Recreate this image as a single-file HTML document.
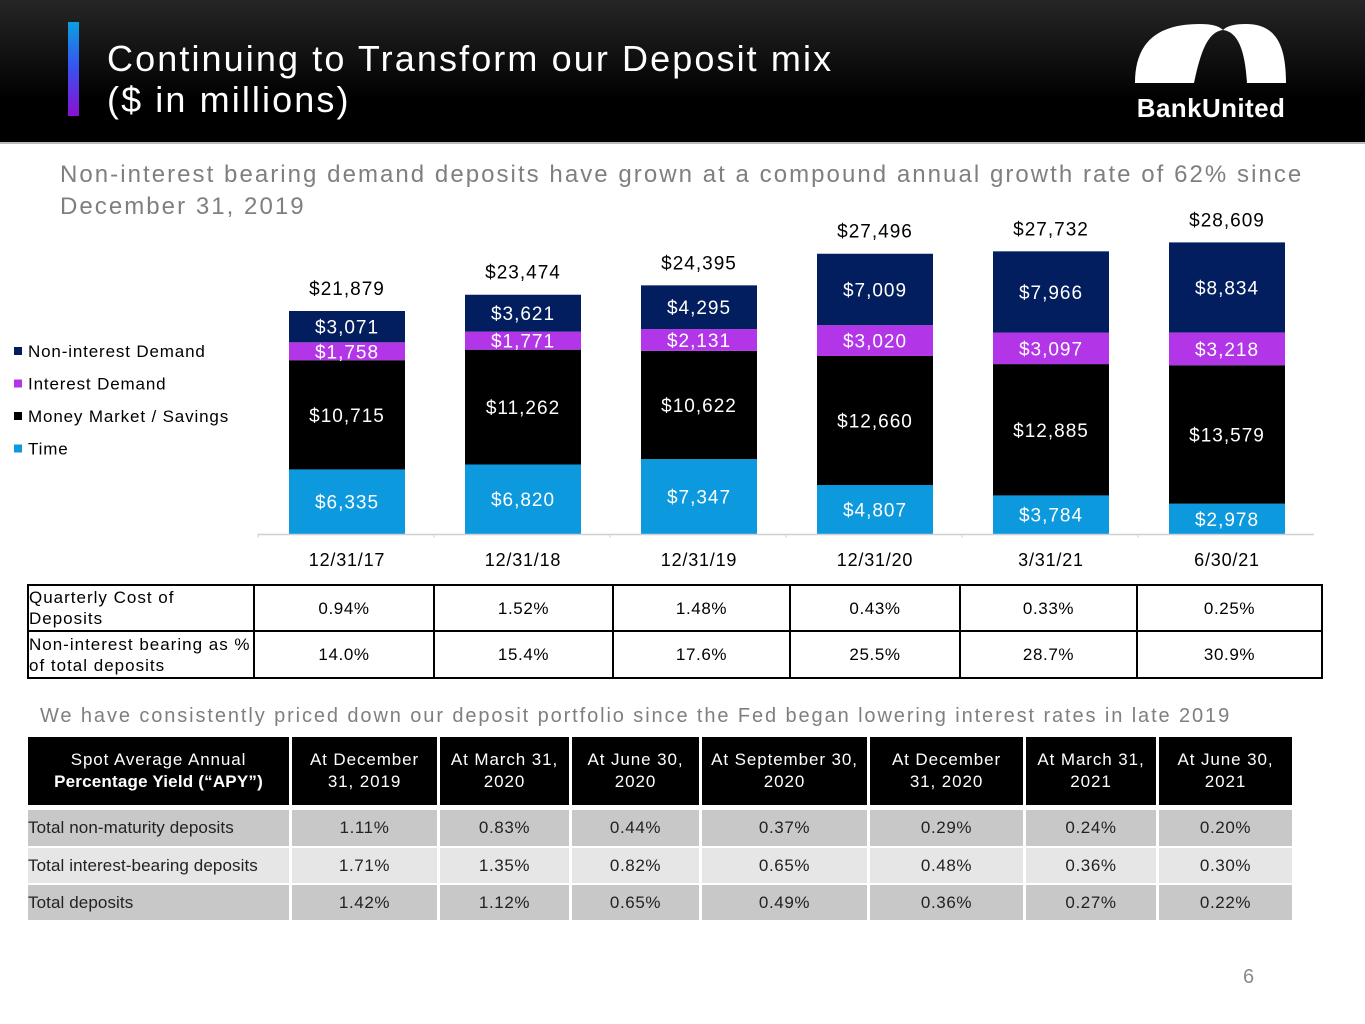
<!DOCTYPE html>
<html><head><meta charset="utf-8">
<style>
*{margin:0;padding:0;box-sizing:border-box}
body{width:1365px;height:1024px;position:relative;background:#fff;font-family:"Liberation Sans",sans-serif;overflow:hidden}
.abs{position:absolute}
.cell{position:absolute;display:flex;align-items:center;justify-content:center;text-align:center;font-size:17px;color:#222;line-height:22px;letter-spacing:0.6px}
</style></head><body>
<div class="abs" style="left:0;top:0;width:1365px;height:142px;background:linear-gradient(#262626,#000 70%)"></div>
<div class="abs" style="left:0;top:142px;width:1365px;height:2px;background:#bbb"></div>
<div class="abs" style="left:68px;top:22px;width:11px;height:94px;background:linear-gradient(#0aa0e0,#3a50f0 50%,#8a10d0)"></div>
<div class="abs" style="left:107px;top:38px;color:#fff;font-size:36px;line-height:41px;letter-spacing:2.1px">Continuing to Transform our Deposit mix<br>($ in millions)</div>
<svg class="abs" style="left:1120px;top:10px" width="180" height="120">
<path d="M15 73 C15 30 40 14 80 14 C92 14 99 16 103 20 C107 16 114 14 126 14 C156 14 166 35 166 73 L127 73 C125 40 118 22 103 20 C88 22 81 40 74 73 Z" fill="#fff"/>
<text x="91" y="107" text-anchor="middle" font-family="Liberation Sans" font-weight="bold" font-size="26" fill="#fff" letter-spacing="0.4">BankUnited</text>
</svg>
<div class="abs" style="left:60px;top:159px;color:#7f7f7f;font-size:24px;line-height:32px;letter-spacing:2.05px">Non-interest bearing demand deposits have grown at a compound annual growth rate of 62% since<br>December 31, 2019</div>

<svg id="chart" class="abs" style="left:0;top:0" width="1365" height="580"></svg>

<div id="t1"></div>
<div class="abs" style="left:40px;top:705px;color:#7f7f7f;font-size:20px;letter-spacing:1.9px">We have consistently priced down our deposit portfolio since the Fed began lowering interest rates in late 2019</div>
<div id="t2"></div>
<div class="abs" style="left:1243px;top:966px;color:#8a8a8a;font-size:20px">6</div>

<script>
const categories=["12/31/17","12/31/18","12/31/19","12/31/20","3/31/21","6/30/21"];
const timeVals=[6335,6820,7347,4807,3784,2978];
const mmVals=[10715,11262,10622,12660,12885,13579];
const intDemVals=[1758,1771,2131,3020,3097,3218];
const nonIntVals=[3071,3621,4295,7009,7966,8834];
const totals=[21879,23474,24395,27496,27732,28609];
const seriesNames=["Non-interest Demand","Interest Demand","Money Market / Savings","Time"];
const NS="http://www.w3.org/2000/svg";
const svg=document.getElementById('chart');
const x0=258,band=176,bw=116,base=534,k=223/21879;
const xc=i=>x0+band*i+band/2+1;
const y=v=>base-v*k;
function mk(t,a){const e=document.createElementNS(NS,t);for(const n in a)e.setAttribute(n,a[n]);svg.appendChild(e);return e;}
function fmt(v){return "$"+v.toLocaleString("en-US");}
const series=[[timeVals,"#0c99dd","time"],[mmVals,"#000","money-market"],[intDemVals,"#b235e8","interest-demand"],[nonIntVals,"#021e5e","non-interest-demand"]];
categories.forEach((c,i)=>{
  let cum=0;
  series.forEach(s=>{
    const v=s[0][i];
    const r=mk('rect',{x:xc(i)-bw/2,y:y(cum+v),width:bw,height:v*k,fill:s[1]});
    
    
    const t=mk('text',{x:xc(i),y:y(cum+v/2)+7,'text-anchor':'middle','font-size':19,fill:'#fff','font-family':'Liberation Sans','letter-spacing':1});
    t.textContent=fmt(v);
    
    
    cum+=v;
  });
  const tt=mk('text',{x:xc(i),y:y(totals[i])-16,'text-anchor':'middle','font-size':19,fill:'#000','font-family':'Liberation Sans','letter-spacing':1});
  tt.textContent=fmt(totals[i]);
  
  
  const xl=mk('text',{x:xc(i),y:566,'text-anchor':'middle','font-size':18,fill:'#000','font-family':'Liberation Sans','letter-spacing':0.8});
  xl.textContent=c;
  
  
  const tk=mk('line',{x1:x0+band*i,x2:x0+band*i,y1:base,y2:base+4,stroke:'#d0d0d0'});
  
  
});
const ax=mk('line',{x1:x0,x2:x0+band*6,y1:base+0.5,y2:base+0.5,stroke:'#d0d0d0','stroke-width':1.5});


const legCols=["#021e5e","#b235e8","#000","#0c99dd"];
seriesNames.forEach((n,j)=>{
  const ly=351+j*32.5;
  const sq=mk('rect',{x:14,y:ly-4,width:8,height:8,fill:legCols[j]});
  
  
  const lt=mk('text',{x:28,y:ly+6,'font-size':17,fill:'#000','font-family':'Liberation Sans','letter-spacing':0.85});
  lt.textContent=n;
  
  
});

// table 1
const t1=document.getElementById('t1');
const c1=[27,253,433,612,789,959,1136,1321], r1=[584,630,677];
const t1rows=[["Quarterly Cost of Deposits","0.94%","1.52%","1.48%","0.43%","0.33%","0.25%"],["Non-interest bearing as % of total deposits","14.0%","15.4%","17.6%","25.5%","28.7%","30.9%"]];
t1rows.forEach((row,ri)=>row.forEach((txt,ci)=>{
  const d=document.createElement('div');
  d.className='cell';
  
  
  d.style.cssText=`left:${c1[ci]}px;top:${r1[ri]}px;width:${c1[ci+1]-c1[ci]+2}px;height:${r1[ri+1]-r1[ri]+2}px;border:2px solid #000;color:#000;font-size:17px;line-height:21px;`+(ci==0?'justify-content:flex-start;text-align:left;padding-left:0px;letter-spacing:1px':'');
  const sp=document.createElement('span');
  sp.textContent=txt;d.appendChild(sp);t1.appendChild(d);
}));
// table 2
const t2=document.getElementById('t2');
const c2=[28,292,440,572,702,870,1026,1159,1295], r2=[[737,805],[810,846],[848,883],[885,920]];
const t2rows=[["Spot Average Annual<br><b style='letter-spacing:0.2px'>Percentage Yield (“APY”)</b>","At December 31, 2019","At March 31, 2020","At June 30, 2020","At September 30, 2020","At December 31, 2020","At March 31, 2021","At June 30, 2021"],
["Total non-maturity deposits","1.11%","0.83%","0.44%","0.37%","0.29%","0.24%","0.20%"],
["Total interest-bearing deposits","1.71%","1.35%","0.82%","0.65%","0.48%","0.36%","0.30%"],
["Total deposits","1.42%","1.12%","0.65%","0.49%","0.36%","0.27%","0.22%"]];
const bgs=["#000","#c8c8c8","#e6e6e6","#c8c8c8"];
t2rows.forEach((row,ri)=>row.forEach((txt,ci)=>{
  const d=document.createElement('div');
  d.className='cell';
  
  
  d.style.cssText=`left:${c2[ci]}px;top:${r2[ri][0]}px;width:${c2[ci+1]-c2[ci]-3}px;height:${r2[ri][1]-r2[ri][0]}px;background:${bgs[ri]};color:${ri==0?'#fff':'#222'};`+(ri>0&&ci==0?'justify-content:flex-start;text-align:left;letter-spacing:0.1px;':'')+(ri==0?'padding:0 6px;letter-spacing:0.9px;':'');
  const sp=document.createElement('span');
  sp.innerHTML=txt;d.appendChild(sp);t2.appendChild(d);
}));
</script>
</body></html>
